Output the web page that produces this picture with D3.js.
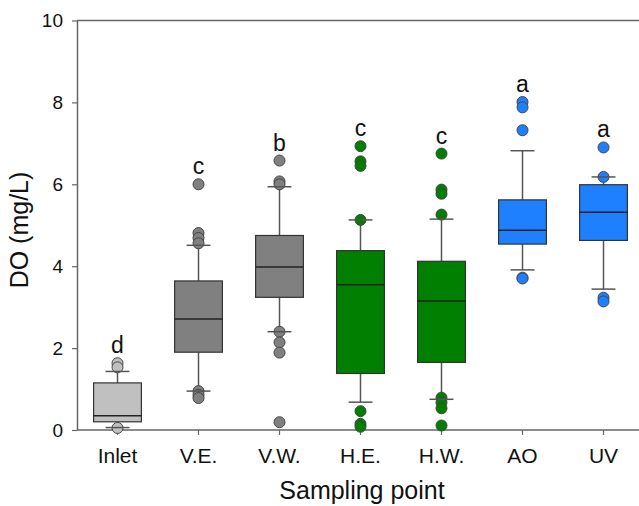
<!DOCTYPE html>
<html><head><meta charset="utf-8">
<script src="https://cdn.jsdelivr.net/npm/d3@7"></script>
<style>body{margin:0;background:#fff}svg{display:block}text{font-family:"Liberation Sans",Arial,sans-serif}</style>
</head><body><svg id="c" width="639" height="506"></svg>
<script>
const categories = ["Inlet","V.E.","V.W.","H.E.","H.W.","AO","UV"];
const whiskerLow  = [0.06, 0.95, 2.40, 0.68, 0.75, 3.91, 3.44];
const q1          = [0.20, 1.90, 3.24, 1.38, 1.65, 4.54, 4.63];
const medians     = [0.35, 2.71, 3.98, 3.55, 3.15, 4.88, 5.32];
const q3          = [1.15, 3.64, 4.75, 4.38, 4.12, 5.62, 5.99];
const whiskerHigh = [1.43, 4.51, 5.94, 5.13, 5.15, 6.82, 6.18];
const outliers = [
  [1.63, 1.53, 0.05],
  [6.00, 4.81, 4.69, 4.56, 0.95, 0.86, 0.78],
  [6.58, 6.07, 6.00, 2.40, 2.14, 1.89, 0.19],
  [6.93, 6.56, 6.45, 5.13, 0.46, 0.15, 0.08],
  [6.75, 5.87, 5.77, 5.26, 0.79, 0.67, 0.53, 0.11],
  [8.01, 7.88, 7.32, 3.72, 3.70],
  [6.90, 6.18, 3.23, 3.14]
];
const letters = ["d","c","b","c","c","a","a"];
const yTicks = [0,2,4,6,8,10];

const fills = ["#c0c0c0","#808080","#808080","#007f00","#007f00","#1e80ff","#1e80ff"];

const svg = d3.select("#c");
const mLeft = 77, mRight = 644, mTop = 20.5, mBottom = 430;
const x = d3.scaleBand().domain(categories).range([mLeft, mRight]).paddingInner(0.41).paddingOuter(0.205);
const y = d3.scaleLinear().domain([0,10]).range([mBottom, mTop]);
const bw = x.bandwidth();
const cx = c => x(c) + bw/2;

svg.append("line").attr("x1",mLeft).attr("x2",mRight).attr("y1",mTop).attr("y2",mTop)
  .attr("stroke","#666").attr("stroke-width",1.5);

const yAxis = svg.append("g").attr("transform",`translate(${mLeft},0)`)
  .call(d3.axisLeft(y).tickValues(yTicks).tickSize(5).tickPadding(9).tickSizeOuter(0));
const xAxis = svg.append("g").attr("transform",`translate(0,${mBottom})`)
  .call(d3.axisBottom(x).tickSize(5).tickPadding(13).tickSizeOuter(0));
[yAxis,xAxis].forEach(a=>{
  a.select(".domain").attr("stroke","#666").attr("stroke-width",1.5);
  a.selectAll(".tick line").attr("stroke","#666").attr("stroke-width",1.2);
  a.selectAll(".tick text").attr("fill","#111").style("font-family","'Liberation Sans',Arial,sans-serif");
});
yAxis.selectAll(".tick text").style("font-size","19px");
xAxis.selectAll(".tick text").style("font-size","21px");
xAxis.select(".domain").attr("d",`M${mLeft},0H${mRight}`);

const g = svg.append("g");
categories.forEach((c,i)=>{
  const xc = cx(c);
  const capW = bw/2;
  g.append("line").attr("x1",xc).attr("x2",xc).attr("y1",y(q3[i])).attr("y2",y(whiskerHigh[i])).attr("stroke","#555").attr("stroke-width",1.5);
  g.append("line").attr("x1",xc).attr("x2",xc).attr("y1",y(q1[i])).attr("y2",y(whiskerLow[i])).attr("stroke","#555").attr("stroke-width",1.5);
  g.append("rect").attr("x",x(c)).attr("width",bw).attr("y",y(q3[i])).attr("height",y(q1[i])-y(q3[i]))
    .attr("fill",fills[i]).attr("stroke","#333").attr("stroke-width",1.2);
  g.append("line").attr("x1",x(c)).attr("x2",x(c)+bw).attr("y1",y(medians[i])).attr("y2",y(medians[i])).attr("stroke","#222").attr("stroke-width",1.5);
  outliers[i].forEach(v=>{
    g.append("circle").attr("cx",xc).attr("cy",y(v)).attr("r",5.5).attr("fill",fills[i]).attr("stroke","#444").attr("stroke-width",1);
  });
  [whiskerLow[i], whiskerHigh[i]].forEach(v=>{
    g.append("line").attr("x1",xc-capW/2).attr("x2",xc+capW/2).attr("y1",y(v)).attr("y2",y(v)).attr("stroke","#555").attr("stroke-width",1.5);
  });
  const maxV = d3.max([whiskerHigh[i], ...outliers[i]]);
  g.append("text").attr("x",xc).attr("y",y(maxV)-10).attr("text-anchor","middle")
    .style("font-size","23px").attr("fill","#111").text(letters[i]);
});

svg.append("text").attr("x",362).attr("y",499).attr("text-anchor","middle").style("font-size","25px").attr("fill","#111").text("Sampling point");
svg.append("text").attr("transform","translate(28,230) rotate(-90)").attr("text-anchor","middle").style("font-size","25px").attr("fill","#111").text("DO (mg/L)");
</script></body></html>
